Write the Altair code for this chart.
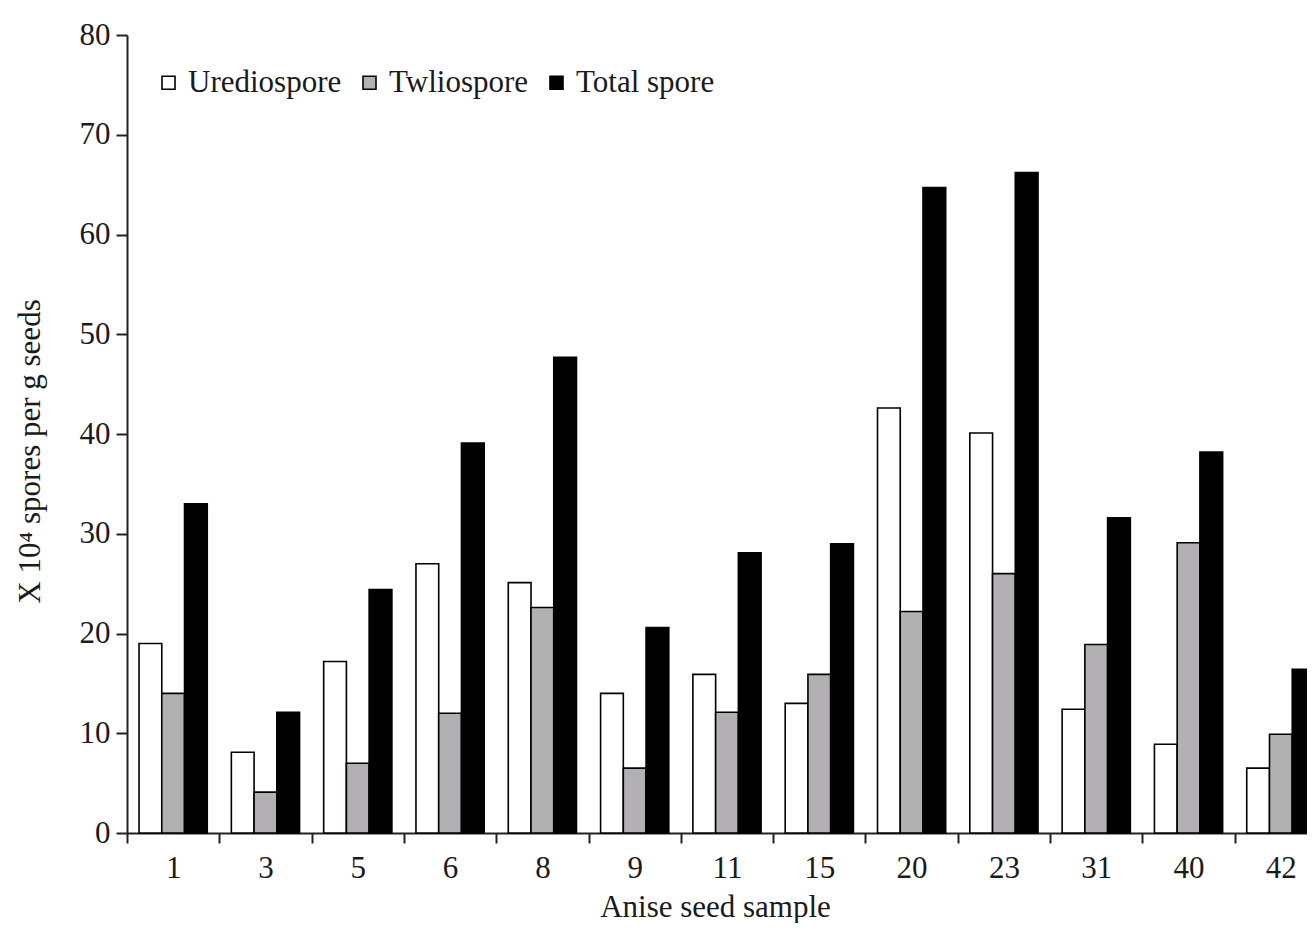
import altair as alt
import pandas as pd

samples = ["1", "3", "5", "6", "8", "9", "11", "15", "20", "23", "31", "40", "42"]
series = ["Urediospore", "Twliospore", "Total spore"]
urediospore = [19.0, 8.1, 17.2, 27.0, 25.1, 14.0, 15.9, 13.0, 42.6, 40.1, 12.4, 8.9, 6.5]
twliospore = [14.0, 4.1, 7.0, 12.0, 22.6, 6.5, 12.1, 15.9, 22.2, 26.0, 18.9, 29.1, 9.9]
total_spore = [33.0, 12.1, 24.4, 39.1, 47.7, 20.6, 28.1, 29.0, 64.7, 66.2, 31.6, 38.2, 16.4]
y_ticks = [0, 10, 20, 30, 40, 50, 60, 70, 80]
colors = ["#ffffff", "#b2b0b3", "#000000"]

rows = []
for name, vals in zip(series, [urediospore, twliospore, total_spore]):
    for s, v in zip(samples, vals):
        rows.append({"sample": s, "series": name, "value": v})
df = pd.DataFrame(rows)

FONT = "Liberation Serif"
FS = 31
TXT = "#1a1a1a"

chart = alt.Chart(df).mark_bar(stroke="#000000", strokeWidth=1.6).encode(
    x=alt.X(
        "sample:N",
        sort=samples,
        scale=alt.Scale(paddingInner=0, paddingOuter=0),
        axis=alt.Axis(
            title="Anise seed sample",
            labelAngle=0,
            tickBand="extent",
            tickSize=10,
            tickWidth=2,
            tickColor="#222222",
            domainColor="#222222",
            domainWidth=2,
            labelPadding=10,
            labelFont=FONT,
            labelFontSize=FS,
            labelColor=TXT,
            titleFont=FONT,
            titleFontSize=FS,
            titleFontWeight="normal",
            titleColor=TXT,
            titleX=588,
            titleY=74,
            titleBaseline="middle",
        ),
    ),
    xOffset=alt.XOffset(
        "series:N",
        sort=series,
        scale=alt.Scale(paddingInner=0, paddingOuter=0.53),
    ),
    y=alt.Y(
        "value:Q",
        scale=alt.Scale(domain=[0, 80], nice=False),
        axis=alt.Axis(
            title="X 10\u2074 spores per g seeds",
            values=y_ticks,
            grid=False,
            tickSize=11,
            tickWidth=2,
            tickColor="#222222",
            domainColor="#222222",
            domainWidth=2,
            labelPadding=6,
            labelFont=FONT,
            labelFontSize=FS,
            labelColor=TXT,
            titleFont=FONT,
            titleFontSize=FS,
            titleFontWeight="normal",
            titleColor=TXT,
            titleX=-97,
            titleY=416,
            titleBaseline="middle",
        ),
    ),
    fill=alt.Fill(
        "series:N",
        sort=series,
        scale=alt.Scale(domain=series, range=colors),
        legend=alt.Legend(
            title=None,
            orient="none",
            direction="horizontal",
            legendX=26,
            legendY=32,
            padding=0,
            symbolType="square",
            symbolSize=169,
            symbolStrokeColor="#000000",
            symbolStrokeWidth=1.6,
            labelFont=FONT,
            labelFontSize=FS,
            labelColor=TXT,
            labelOffset=4,
            columnPadding=12,
        ),
    ),
).properties(
    width=1200,
    height=798,
    autosize=alt.AutoSizeParams(type="none"),
    padding={"left": 119, "top": 27, "right": -20, "bottom": 90},
).configure(background="white").configure_view(strokeWidth=0, stroke="transparent")

chart.save("out.html", embed_options={"renderer": "svg", "actions": False})
